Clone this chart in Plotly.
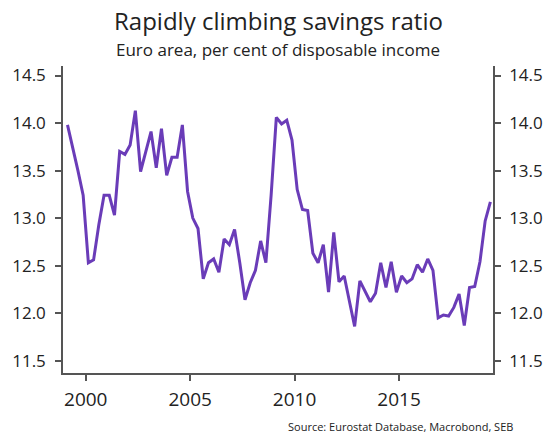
import plotly.graph_objects as go

# Quarterly household savings ratio, euro area, 1999Q1-2019Q2
start_year = 1999
savings_ratio = [
    13.98, 13.75, 13.50, 13.24,
    12.53, 12.56, 12.93, 13.24,
    13.24, 13.03, 13.70, 13.67,
    13.77, 14.13, 13.49, 13.70,
    13.91, 13.53, 13.94, 13.45,
    13.64, 13.64, 13.98, 13.28,
    13.00, 12.89, 12.36, 12.53,
    12.57, 12.43, 12.78, 12.72,
    12.88, 12.53, 12.14, 12.32,
    12.45, 12.76, 12.53, 13.24,
    14.06, 13.99, 14.03, 13.82,
    13.30, 13.09, 13.08, 12.63,
    12.53, 12.72, 12.22, 12.85,
    12.33, 12.39, 12.14, 11.86,
    12.34, 12.23, 12.12, 12.21,
    12.53, 12.27, 12.54, 12.22,
    12.39, 12.32, 12.36, 12.51,
    12.43, 12.57, 12.45, 11.95,
    11.98, 11.97, 12.06, 12.20,
    11.87, 12.27, 12.28, 12.54,
    12.97, 13.17,
]
# mid-quarter positions in decimal years
quarter_time = [start_year + i * 0.25 + 0.125 for i in range(len(savings_ratio))]

x_ticks = [2000, 2005, 2010, 2015]
y_ticks = [11.5, 12.0, 12.5, 13.0, 13.5, 14.0, 14.5]
y_range = [11.37, 14.6]
x_range = [1998.91, 2019.5]

title_text = "Rapidly climbing savings ratio"
subtitle_text = "Euro area, per cent of disposable income"
source_text = "Source: Eurostat Database, Macrobond, SEB"

LINE_COLOR = "#6a3cb8"
AXIS_COLOR = "#555555"
TEXT_COLOR = "#222222"
FONT = "Open Sans"

fig = go.Figure()
fig.add_trace(go.Scatter(
    x=quarter_time, y=savings_ratio, mode="lines",
    line=dict(color=LINE_COLOR, width=3), showlegend=False,
))
# same series on the right-hand axis (invisible) so the mirrored scale is drawn
fig.add_trace(go.Scatter(
    x=quarter_time, y=savings_ratio, mode="lines", yaxis="y2",
    line=dict(color="rgba(0,0,0,0)", width=0), showlegend=False, hoverinfo="skip",
))

axis_common = dict(
    showline=True, linecolor=AXIS_COLOR, linewidth=1.5,
    ticks="outside", ticklen=6, tickwidth=1.5, tickcolor=AXIS_COLOR,
    showgrid=False, zeroline=False,
)
y_font = dict(family=FONT, size=17, color=TEXT_COLOR)
x_font = dict(family=FONT, size=19, color=TEXT_COLOR)

fig.update_layout(
    width=555, height=434,
    margin=dict(l=61, r=54, t=66, b=61),
    paper_bgcolor="white", plot_bgcolor="white",
    font=dict(family=FONT, color=TEXT_COLOR),
    xaxis=dict(range=x_range, tickvals=x_ticks, ticktext=[str(t) for t in x_ticks],
               tickfont=x_font, ticklabelstandoff=2, **axis_common),
    yaxis=dict(range=y_range, tickvals=y_ticks, ticktext=[f"{t:.1f}" for t in y_ticks],
               tickfont=y_font, ticklabelstandoff=6, **axis_common),
    yaxis2=dict(range=y_range, tickvals=y_ticks, ticktext=[f"{t:.1f}" for t in y_ticks],
                tickfont=y_font, ticklabelstandoff=5,
                overlaying="y", side="right", **axis_common),
    annotations=[
        dict(text=title_text, xref="paper", yref="paper", x=0.5, y=1.0, yshift=46,
             xanchor="center", yanchor="middle", showarrow=False,
             font=dict(family=FONT, size=24, color=TEXT_COLOR)),
        dict(text=subtitle_text, xref="paper", yref="paper", x=0.5, y=1.0, yshift=17,
             xanchor="center", yanchor="middle", showarrow=False,
             font=dict(family=FONT, size=17, color=TEXT_COLOR)),
        dict(text=source_text, xref="paper", yref="paper", x=1.0, xshift=22, y=0.0, yshift=-44,
             xanchor="right", yanchor="top", showarrow=False,
             font=dict(family=FONT, size=11, color=TEXT_COLOR)),
    ],
)

fig.write_html("out.html")
